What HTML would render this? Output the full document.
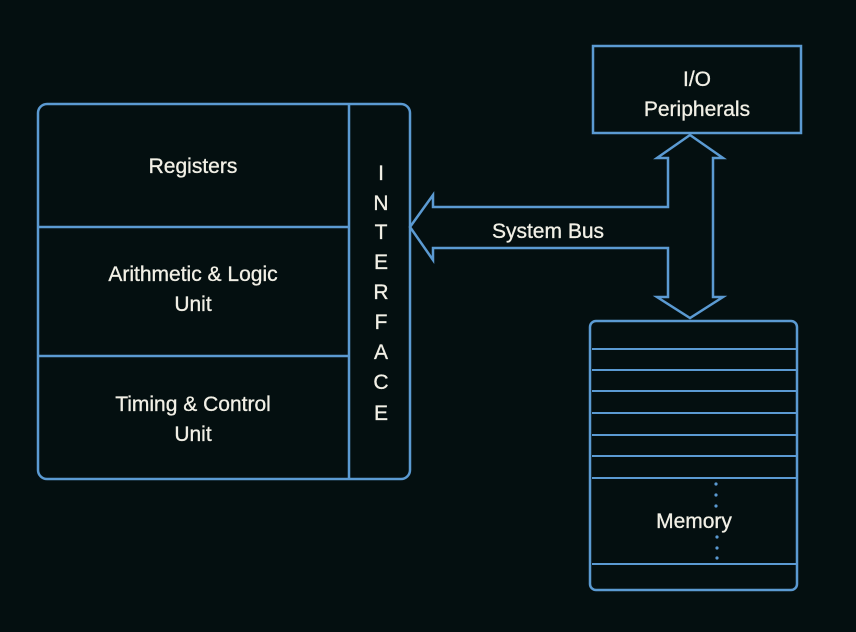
<!DOCTYPE html>
<html><head><style>
html,body{margin:0;padding:0;background:#040f10;}
svg{display:block}
text{font-family:"Liberation Sans",sans-serif;fill:#f2f0e6;font-size:21px;text-anchor:middle;stroke:#f2f0e6;stroke-width:0.3}
</style></head><body>
<svg width="856" height="632" viewBox="0 0 856 632" xmlns="http://www.w3.org/2000/svg">
<rect width="856" height="632" fill="#040f10"/>
<g fill="none" stroke="#5b9ad2" stroke-width="2.5">
<rect x="38" y="104" width="372" height="375" rx="9"/>
<line x1="349" y1="104" x2="349" y2="479"/>
<line x1="38" y1="227" x2="349" y2="227"/>
<line x1="38" y1="356" x2="349" y2="356"/>
<rect x="593" y="46" width="208" height="87"/>
<path d="M410 227 L433 195 L433 207 L668 207 L668 158 L657 158 L690 135 L723 158 L713 158 L713 297 L723 297 L690 318 L657 297 L668 297 L668 248 L433 248 L433 260 Z" stroke-linejoin="miter"/>
<rect x="590" y="321" width="207" height="269" rx="6"/>
<g stroke-width="2">
<line x1="592" y1="349" x2="797" y2="349"/>
<line x1="592" y1="370" x2="797" y2="370"/>
<line x1="592" y1="391" x2="797" y2="391"/>
<line x1="592" y1="413" x2="797" y2="413"/>
<line x1="592" y1="435" x2="797" y2="435"/>
<line x1="592" y1="456" x2="797" y2="456"/>
<line x1="592" y1="478" x2="797" y2="478"/>
<line x1="592" y1="564" x2="797" y2="564"/>
</g>
</g>
<g fill="#5b9ad2">
<circle cx="716" cy="484" r="1.6"/><circle cx="716" cy="495" r="1.6"/><circle cx="716" cy="506" r="1.6"/>
<circle cx="717" cy="537" r="1.6"/><circle cx="717" cy="548" r="1.6"/><circle cx="717" cy="558" r="1.6"/>
</g>
<text x="193" y="173">Registers</text>
<text x="193" y="281">Arithmetic &amp; Logic</text>
<text x="193" y="311">Unit</text>
<text x="193" y="411">Timing &amp; Control</text>
<text x="193" y="441">Unit</text>
<text x="548" y="238">System Bus</text>
<text x="697" y="86">I/O</text>
<text x="697" y="116">Peripherals</text>
<text x="694" y="528">Memory</text>
<g style="font-size:20px">
<text x="381" y="180">I</text><text x="381" y="210">N</text><text x="381" y="239">T</text>
<text x="381" y="269">E</text><text x="381" y="299">R</text><text x="381" y="329">F</text>
<text x="381" y="359">A</text><text x="381" y="389">C</text><text x="381" y="420">E</text>
</g>
</svg>
</body></html>
